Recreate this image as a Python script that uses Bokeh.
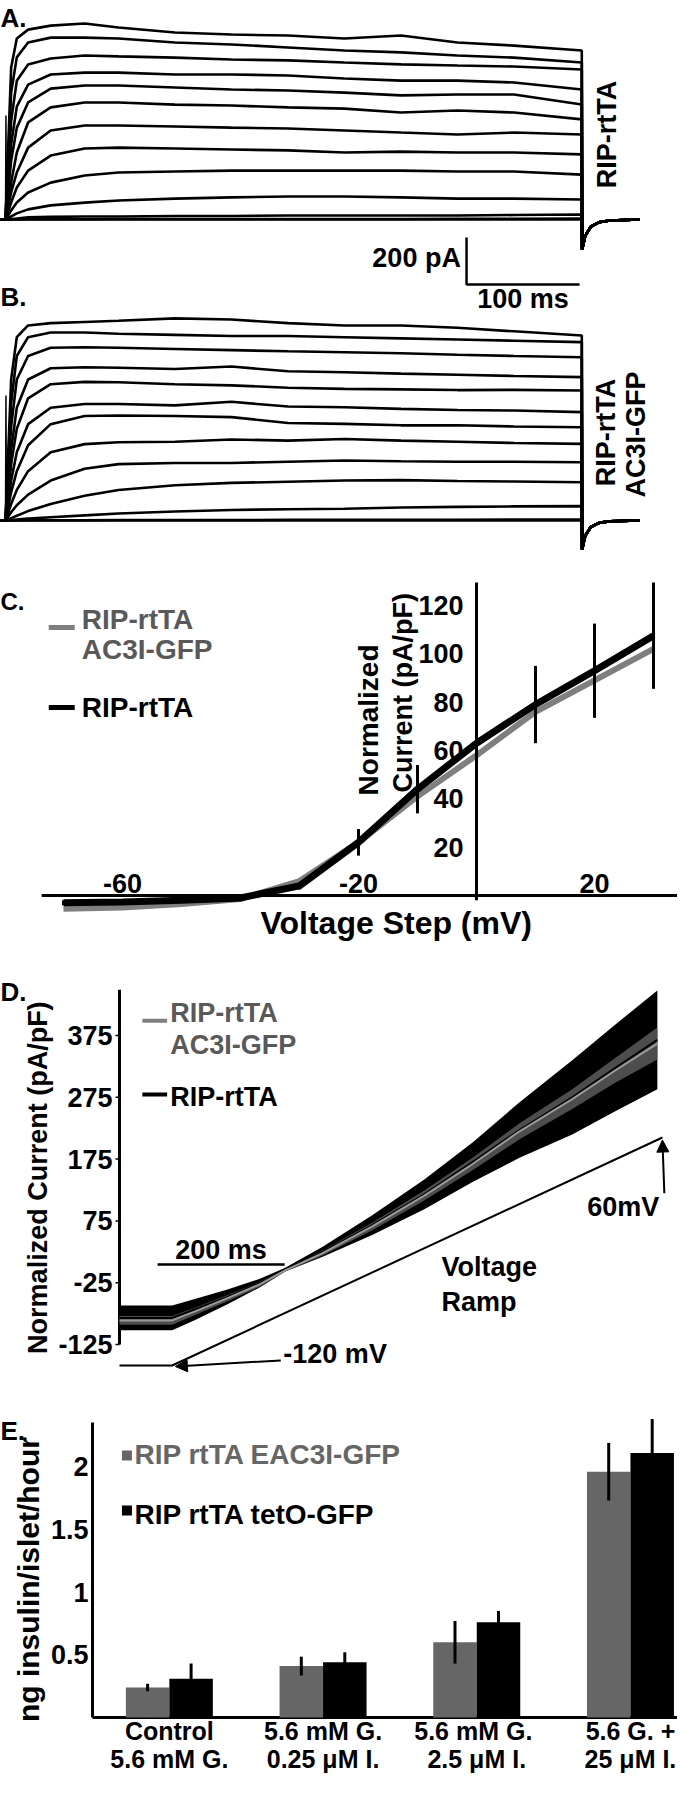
import math
from bokeh.plotting import figure
from bokeh.models import Range1d, Label, Arrow, NormalHead
from bokeh.embed import file_html
from bokeh.resources import INLINE
from bokeh.core.properties import value

FONT = "Liberation Sans"
W = 677
H = 1780

# ---------------- Panels A & B : current traces (pA) at these times (ms) ----------------
trace_t = [0, 5, 10, 20, 40, 70, 100, 150, 200, 250, 300, 350, 400, 450, 510]
traces_a = [
    [0, 647, 770, 808, 825, 834, 817, 796, 787, 783, 770, 783, 753, 740, 719],
    [0, 540, 690, 753, 774, 774, 770, 753, 745, 732, 719, 711, 698, 689, 668],
    [0, 420, 590, 660, 685, 698, 694, 689, 681, 677, 668, 660, 655, 651, 638],
    [0, 320, 480, 574, 617, 625, 625, 617, 617, 613, 600, 591, 591, 583, 553],
    [0, 250, 390, 498, 557, 570, 570, 562, 553, 549, 540, 528, 532, 532, 489],
    [0, 157, 285, 413, 477, 498, 498, 489, 485, 477, 472, 455, 464, 455, 426],
    [0, 115, 200, 306, 379, 400, 400, 396, 391, 387, 379, 370, 362, 370, 362],
    [0, 72, 136, 208, 272, 302, 306, 302, 298, 294, 285, 289, 285, 285, 277],
    [0, 38, 72, 115, 157, 187, 200, 204, 208, 208, 208, 208, 204, 204, 191],
    [0, 13, 26, 43, 60, 72, 81, 89, 94, 98, 98, 94, 89, 89, 85],
    [0, 2, 4, 9, 11, 13, 13, 15, 15, 17, 17, 17, 17, 19, 21],
    [0, 0, 0, 1, 1, 1, 2, 2, 2, 2, 2, 2, 3, 3, 4],
    [0, 0, 0, 0, 0, 0, 0, 0, 0, 0, 0, 0, 0, 0, 0],
]
traces_b = [
    [0, 600, 780, 830, 840, 845, 850, 860, 855, 840, 830, 830, 820, 805, 787],
    [0, 500, 700, 780, 800, 800, 795, 790, 785, 785, 780, 775, 770, 765, 759],
    [0, 400, 600, 700, 735, 737, 735, 730, 725, 720, 716, 712, 705, 700, 695],
    [0, 300, 480, 600, 648, 652, 650, 645, 655, 635, 631, 625, 620, 615, 610],
    [0, 240, 390, 520, 580, 590, 588, 580, 575, 565, 560, 558, 555, 556, 553],
    [0, 170, 290, 410, 480, 496, 496, 490, 505, 485, 482, 475, 470, 468, 461],
    [0, 120, 210, 320, 410, 445, 447, 445, 440, 415, 411, 405, 405, 400, 397],
    [0, 70, 130, 210, 290, 325, 333, 335, 345, 340, 347, 340, 335, 330, 326],
    [0, 35, 65, 110, 170, 220, 240, 245, 245, 250, 255, 252, 250, 250, 248],
    [0, 10, 20, 40, 70, 105, 130, 150, 160, 165, 170, 172, 168, 166, 163],
    [0, 2, 4, 8, 14, 22, 30, 38, 45, 48, 50, 55, 58, 60, 61],
    [0, 0, 0, 1, 1, 1, 2, 2, 2, 3, 3, 3, 3, 4, 4],
    [0, 0, 0, 0, 0, 0, 0, 0, 0, 0, 0, 0, 0, 0, 0],
]
tail_t = [510.3, 513, 518, 525, 535, 561]
tail_a = [-128, -70, -30, -12, -4, 0]
tail_b = [-123, -65, -28, -10, -3, 0]
spike_t = [0, 0.4, 0.8]
spike_a = [0, 443, 0]
spike_b = [0, 532, 0]
SCALE_PA = 200
SCALE_MS = 100

# ---------------- Panel C : I-V relation ----------------
iv_mv = [-70, -60, -50, -40, -30, -20, -10, 0, 10, 20, 30]
iv_rip = [-3, -2.7, -2, -1, 4, 22, 44, 63, 79, 93, 107.5]
iv_rip_sem = [1, 1, 1, 1, 1.5, 5.5, 10, 12, 16, 19.5, 22]
iv_ac3 = [-5.5, -5, -3.5, -1.5, 6, 22, 41, 58, 76, 89, 102]
c_xticks = [-60, -20, 20]
c_yticks = [20, 40, 60, 80, 100, 120]

# ---------------- Panel D : ramp currents ----------------
ramp_t = [0, 83, 120, 170, 220, 261, 320, 398, 480, 556, 630, 713, 780, 847]
rip_mean = [-82, -82, -68, -48, -26, -4, 25, 68, 118, 170, 222, 275, 322, 368]
rip_sem = [20, 20, 17, 12, 7, 3, 8, 16, 24, 32, 45, 60, 70, 80]
ac3_mean = [-86, -86, -71, -50, -28, -5, 23, 66, 116, 167, 220, 272, 318, 362]
ac3_sem = [7, 7, 6, 5, 4, 2, 4, 6, 8, 10, 13, 16, 20, 26]
cmd_t = [0, 83, 855]
cmd_mv = [-120, -120, 60]
d_yticks = [-125, -25, 75, 175, 275, 375]

# ---------------- Panel E : insulin secretion ----------------
conditions = ["Control\n5.6 mM G.", "5.6 mM G.\n0.25 \u03bcM I.",
              "5.6  mM G.\n2.5 \u03bcM I.", "5.6 G. +\n25 \u03bcM I."]
ins_eac3 = [0.24, 0.41, 0.60, 1.96]
ins_eac3_sem = [0.03, 0.075, 0.17, 0.23]
ins_teto = [0.31, 0.44, 0.76, 2.11]
ins_teto_sem = [0.12, 0.08, 0.09, 0.27]
e_yticks = [0.5, 1, 1.5, 2]

GRAY_LINE = "#7f7f7f"
GRAY_TEXT = "#595959"
GRAY_BAR = "#666666"


def xr_(px, v0, k):
    return Range1d(v0 - px / k, v0 + (W - px) / k)


def yr_(px, v0, k):
    return Range1d(v0 - (H - px) / k, v0 + px / k)


p = figure(width=W, height=H, x_range=Range1d(0, W), y_range=Range1d(-H, 0),
           output_backend="svg", toolbar_location=None, min_border=0,
           x_axis_location=None, y_axis_location=None)
p.grid.visible = False
p.outline_line_color = None
p.background_fill_color = "white"
p.border_fill_color = "white"

# pixel anchors (inside the figure) and scales of every panel
PX_MS = 1.13
PX_PA = 47 / 200
PX_MV = 5.9
PX_C = 2.417
PX_MSD = 0.635
PX_D = 0.618
PX_MVD = 228 / 180
PX_CAT = 153.7
PX_E = 125.4
p.extra_x_ranges = {
    "tAB": xr_(5, 0, PX_MS),
    "mv": xr_(476, 0, PX_MV),
    "tD": xr_(119, 0, PX_MSD),
    "cat": xr_(92, 0.5, PX_CAT),
}
p.extra_y_ranges = {
    "A": yr_(219, 0, PX_PA),
    "B": yr_(520, 0, PX_PA),
    "C": yr_(895, 0, PX_C),
    "D": yr_(1035, 375, PX_D),
    "ramp": yr_(1365, -120, PX_MVD),
    "E": yr_(1717, 0, PX_E),
}
XR = p.extra_x_ranges


def lab(x, y, text, xn, yn, size=27, color="black", align="left", baseline="middle",
        angle=0.0):
    p.add_layout(Label(x=x, y=y, text=text, text_font=FONT, text_font_style="bold",
                       text_font_size=f"{size}px", text_color=color, text_align=align,
                       text_baseline=baseline, angle=angle,
                       x_range_name=xn, y_range_name=yn))


def texts(xs, ys, labels, xn, yn, size=27, align="center", baseline="middle", color="black"):
    p.text(x=xs, y=ys, text=labels, text_font=value(FONT), text_font_style="bold",
           text_font_size=value(f"{size}px"), text_align=align, text_baseline=baseline,
           text_color=color, x_range_name=xn, y_range_name=yn)


# ======================= A & B =======================
t_start = XR["tAB"].start
for traces, tail, spike, rn in ((traces_a, tail_a, spike_a, "A"),
                               (traces_b, tail_b, spike_b, "B")):
    xs = [[t_start] + trace_t + tail_t for _ in traces]
    ys = [[0] + tr + tail for tr in traces]
    p.multi_line(xs, ys, line_color="black", line_width=2.6,
                 x_range_name="tAB", y_range_name=rn)
    p.line(spike_t, spike, line_color="black", line_width=1.5,
           x_range_name="tAB", y_range_name=rn)

SB_T = 408
SB_LOW = -277
p.line([SB_T, SB_T, SB_T + SCALE_MS], [SB_LOW + SCALE_PA, SB_LOW, SB_LOW],
       line_color="black", line_width=2.5, x_range_name="tAB", y_range_name="A")
lab(SB_T - 5, SB_LOW + SCALE_PA * 0.57, "200 pA", "tAB", "A", align="right")
lab(SB_T + SCALE_MS / 2, -340, "100 ms", "tAB", "A", align="center")
lab(t_start, 923, "A.", "tAB", "A", size=26, baseline="top")
lab(t_start, 1013, "B.", "tAB", "B", size=26, baseline="top")
lab(532, 362, "RIP-rtTA", "tAB", "A", align="center", angle=math.pi / 2)
lab(531, 374, "RIP-rtTA", "tAB", "B", align="center", angle=math.pi / 2)
lab(558, 366, "AC3I-GFP", "tAB", "B", align="center", angle=math.pi / 2)

# ======================= C =======================
mv_end = XR["mv"].end
p.segment(x0=[-73.7, 0], y0=[0, -2], x1=[mv_end, 0], y1=[0, 129.5],
          line_color="black", line_width=3, x_range_name="mv", y_range_name="C")
texts(c_xticks, [1.2] * len(c_xticks), [str(v) for v in c_xticks], "mv", "C",
      baseline="bottom")
texts([-2.2] * len(c_yticks), c_yticks, [str(v) for v in c_yticks], "mv", "C",
      align="right")
p.line(iv_mv, iv_ac3, line_color=GRAY_LINE, line_width=6, x_range_name="mv", y_range_name="C")
p.line(iv_mv, iv_rip, line_color="black", line_width=7, x_range_name="mv", y_range_name="C")
p.segment(x0=iv_mv, x1=iv_mv, y0=[m - s for m, s in zip(iv_rip, iv_rip_sem)],
          y1=[m + s for m, s in zip(iv_rip, iv_rip_sem)], line_color="black", line_width=3,
          x_range_name="mv", y_range_name="C")
lab(-13.6, -11.2, "Voltage Step (mV)", "mv", "C", size=32, align="center")
lab(-18.3, 41.4, "Normalized", "mv", "C", size=28, angle=math.pi / 2)
lab(-12.4, 42.6, "Current (pA/pF)", "mv", "C", size=27, angle=math.pi / 2)
lab(XR["mv"].start, 127.4, "C.", "mv", "C", size=24, baseline="top")
p.segment(x0=[-72.5, -72.5], x1=[-68.1, -68.1], y0=[110.9, 77.8], y1=[110.9, 77.8],
          line_color=[GRAY_LINE, "black"], line_width=5, x_range_name="mv", y_range_name="C")
lab(-66.9, 114.2, "RIP-rtTA", "mv", "C", size=28, color=GRAY_TEXT)
lab(-66.9, 101.8, "AC3I-GFP", "mv", "C", size=28, color=GRAY_TEXT)
lab(-66.9, 77.8, "RIP-rtTA", "mv", "C", size=28)

# ======================= D =======================
tick_len = 4 / PX_MSD
p.segment(x0=[0], y0=[-125], x1=[0], y1=[449], line_color="black", line_width=3,
          x_range_name="tD", y_range_name="D")
p.segment(x0=[-tick_len] * len(d_yticks), x1=[0] * len(d_yticks), y0=d_yticks, y1=d_yticks,
          line_color="black", line_width=1.5, x_range_name="tD", y_range_name="D")
texts([-7 / PX_MSD] * len(d_yticks), d_yticks, [str(v) for v in d_yticks], "tD", "D",
      align="right")
lab(-129, 145, "Normalized Current (pA/pF)", "tD", "D", align="center", angle=math.pi / 2)

p.varea(x=ramp_t, y1=[m - s for m, s in zip(rip_mean, rip_sem)],
        y2=[m + s for m, s in zip(rip_mean, rip_sem)], fill_color="black",
        x_range_name="tD", y_range_name="D")
p.varea(x=ramp_t, y1=[m - s for m, s in zip(ac3_mean, ac3_sem)],
        y2=[m + s for m, s in zip(ac3_mean, ac3_sem)], fill_color="#4d4d4d",
        x_range_name="tD", y_range_name="D")
p.line(ramp_t, rip_mean, line_color="black", line_width=2, x_range_name="tD", y_range_name="D")
p.line(ramp_t, ac3_mean, line_color="#9a9a9a", line_width=2, x_range_name="tD", y_range_name="D")
p.line(cmd_t, cmd_mv, line_color="black", line_width=2, x_range_name="tD", y_range_name="ramp")
p.line([60, 260], [4.4, 4.4], line_color="black", line_width=2.5, x_range_name="tD", y_range_name="D")
lab(160, 28.7, "200 ms", "tD", "D", align="center")
lab(507, -42, "Voltage", "tD", "ramp")
lab(507, -69.5, "Ramp", "tD", "ramp")
lab(850, 5.5, "60mV", "tD", "ramp", align="right")
lab(258, -111.3, "-120 mV", "tD", "ramp")
p.add_layout(Arrow(end=NormalHead(size=12, fill_color="black", line_color="black"),
                   x_start=858, y_start=16, x_end=855, y_end=58, line_width=2,
                   x_range_name="tD", y_range_name="ramp"))
p.add_layout(Arrow(end=NormalHead(size=12, fill_color="black", line_color="black"),
                   x_start=254, y_start=-116, x_end=88, y_end=-120.8, line_width=2,
                   x_range_name="tD", y_range_name="ramp"))
p.segment(x0=[36, 36], x1=[75, 75], y0=[399, 279.5], y1=[399, 279.5],
          line_color=[GRAY_LINE, "black"], line_width=4, x_range_name="tD", y_range_name="D")
lab(80, 412, "RIP-rtTA", "tD", "D", color=GRAY_TEXT)
lab(80, 360.4, "AC3I-GFP", "tD", "D", color=GRAY_TEXT)
lab(80, 274.7, "RIP-rtTA", "tD", "D")
lab(XR["tD"].start, 468.9, "D.", "tD", "D", size=26, baseline="top")

# ======================= E =======================
BAR_W = 0.283
idx = list(range(1, len(conditions) + 1))
p.segment(x0=[0.5, 0.5], y0=[0, 0], x1=[0.5, XR["cat"].end], y1=[2.352, 0],
          line_color="black", line_width=3, x_range_name="cat", y_range_name="E")
texts([0.5 - 4 / PX_CAT] * len(e_yticks), e_yticks, [f"{v:g}" for v in e_yticks], "cat", "E",
      align="right")
texts(idx, [-0.104] * len(idx), [c.split("\n")[0] for c in conditions], "cat", "E", size=25)
texts(idx, [-0.327] * len(idx), [c.split("\n")[1] for c in conditions], "cat", "E", size=25)
lab(0.0836, 1.10, "ng insulin/islet/hour", "cat", "E", size=30, align="center",
    angle=math.pi / 2)

xg = [i - BAR_W / 2 for i in idx]
xk = [i + BAR_W / 2 for i in idx]
p.vbar(x=xg, top=ins_eac3, width=BAR_W, fill_color=GRAY_BAR, line_color=None,
       x_range_name="cat", y_range_name="E")
p.vbar(x=xk, top=ins_teto, width=BAR_W, fill_color="black", line_color=None,
       x_range_name="cat", y_range_name="E")
p.segment(x0=xg, x1=xg, y0=[m - s for m, s in zip(ins_eac3, ins_eac3_sem)],
          y1=[m + s for m, s in zip(ins_eac3, ins_eac3_sem)], line_color="black", line_width=3,
          x_range_name="cat", y_range_name="E")
p.segment(x0=xk, x1=xk, y0=[m - s for m, s in zip(ins_teto, ins_teto_sem)],
          y1=[m + s for m, s in zip(ins_teto, ins_teto_sem)], line_color="black", line_width=3,
          x_range_name="cat", y_range_name="E")
p.scatter(x=[0.724, 0.724], y=[2.089, 1.651], marker="square", size=10,
          fill_color=[GRAY_BAR, "black"], line_color=None, x_range_name="cat", y_range_name="E")
lab(0.773, 2.097, "RIP rtTA EAC3I-GFP", "cat", "E", size=28, color=GRAY_BAR)
lab(0.773, 1.619, "RIP rtTA tetO-GFP", "cat", "E", size=28)
lab(XR["cat"].start, 2.408, "E.", "cat", "E", size=26, baseline="top")

open("out.html", "w").write(file_html(p, INLINE))
